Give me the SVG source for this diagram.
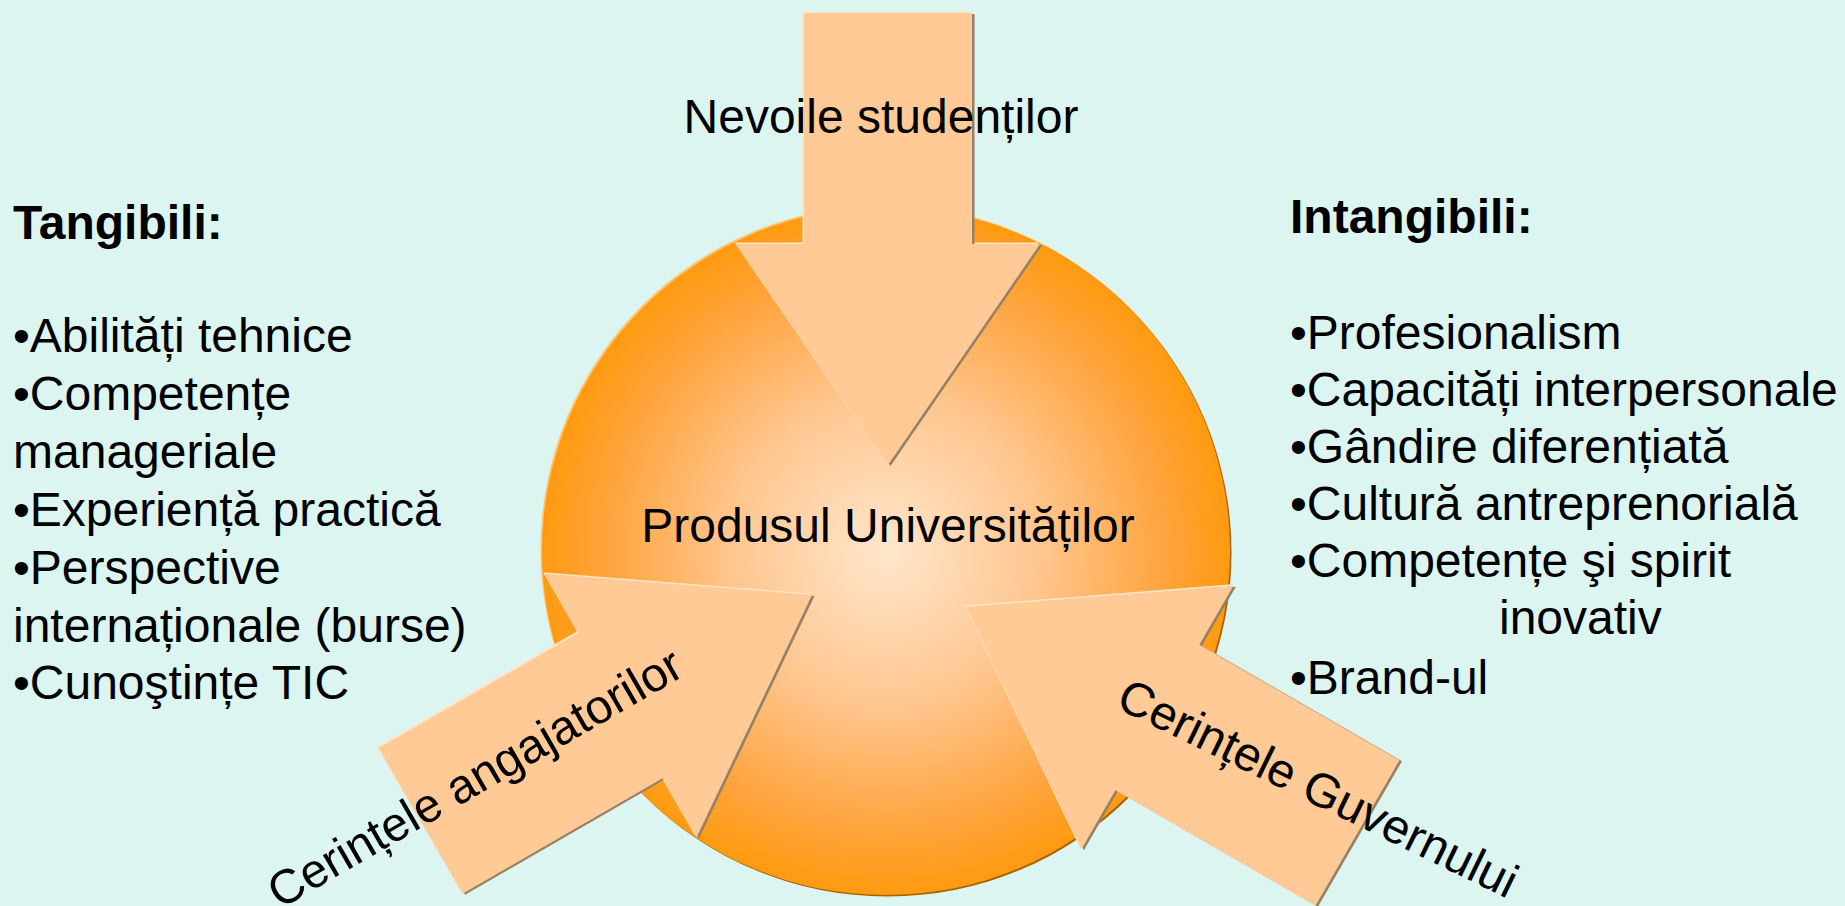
<svg xmlns="http://www.w3.org/2000/svg" xmlns:xlink="http://www.w3.org/1999/xlink" width="1845" height="906" viewBox="0 0 1845 906">
  <style>
    .t { font-family: "Liberation Sans", Arial, sans-serif; font-size: 48px; fill: #000; }
    .b { font-weight: bold; }
    .arrow { fill: #FFCA95; }
    .arrow-sh { fill: #968066; }
    .arrow-hl { fill: #FFE4C8; }
  </style>
  <defs>
    <radialGradient id="gCircle" cx="50%" cy="50%" r="50%">
      <stop offset="0" stop-color="#FFE6CC"/>
      <stop offset="0.45" stop-color="#FFC68F"/>
      <stop offset="0.8" stop-color="#FFA540"/>
      <stop offset="1" stop-color="#FF9A10"/>
    </radialGradient>
    <path id="arrowShape" d="M0,0 L-221,-152 L-221,-84 L-452,-84 L-452,84 L-221,84 L-221,152 Z"/>
  </defs>

  <rect width="1845" height="906" fill="#DDF5F0"/>

  <g id="node-center">
    <circle cx="884.5" cy="549.5" r="344" fill="#FFC574"/>
    <circle cx="887.5" cy="552.5" r="344" fill="#A86200"/>
    <circle cx="886" cy="551" r="344" fill="url(#gCircle)"/>
    <text class="t" x="888" y="542" text-anchor="middle">Produsul Universităților</text>
  </g>

  <g id="connectors">
    <g id="arrow-top">
      <g transform="translate(-1.5,-1.5)"><use xlink:href="#arrowShape" class="arrow-hl" transform="translate(888,465) rotate(90)"/></g>
      <g transform="translate(2.5,1)"><use xlink:href="#arrowShape" class="arrow-sh" transform="translate(888,465) rotate(90)"/></g>
      <use xlink:href="#arrowShape" class="arrow" transform="translate(888,465) rotate(90)"/>
    </g>
    <g id="arrow-left">
      <g transform="translate(-1.5,-1.5)"><use xlink:href="#arrowShape" class="arrow-hl" transform="translate(812,595) rotate(-30)"/></g>
      <g transform="translate(2.5,1)"><use xlink:href="#arrowShape" class="arrow-sh" transform="translate(812,595) rotate(-30)"/></g>
      <use xlink:href="#arrowShape" class="arrow" transform="translate(812,595) rotate(-30)"/>
    </g>
    <g id="arrow-right">
      <g transform="translate(-1.5,-1.5)"><use xlink:href="#arrowShape" class="arrow-hl" transform="translate(966,607) rotate(210)"/></g>
      <g transform="translate(2.5,1)"><use xlink:href="#arrowShape" class="arrow-sh" transform="translate(966,607) rotate(210)"/></g>
      <use xlink:href="#arrowShape" class="arrow" transform="translate(966,607) rotate(210)"/>
    </g>
  </g>

  <g id="node-students">
    <text class="t" x="881" y="133" text-anchor="middle">Nevoile studenților</text>
  </g>
  <g id="node-employers">
    <text class="t" text-anchor="middle" transform="translate(483,792) rotate(-30)">Cerințele angajatorilor</text>
  </g>
  <g id="node-government">
    <text class="t" text-anchor="middle" transform="translate(1311,803) rotate(26)">Cerințele Guvernului</text>
  </g>

  <g id="node-tangibili">
    <text class="t b" x="13" y="239">Tangibili:</text>
    <text class="t" x="13" y="352">•Abilități tehnice</text>
    <text class="t" x="13" y="410">•Competențe</text>
    <text class="t" x="13" y="468">manageriale</text>
    <text class="t" x="13" y="526">•Experiență practică</text>
    <text class="t" x="13" y="584">•Perspective</text>
    <text class="t" x="13" y="642">internaționale (burse)</text>
    <text class="t" x="13" y="699">•Cunoştințe TIC</text>
  </g>

  <g id="node-intangibili">
    <text class="t b" x="1290" y="233">Intangibili:</text>
    <text class="t" x="1290" y="349">•Profesionalism</text>
    <text class="t" x="1290" y="406">•Capacități interpersonale</text>
    <text class="t" x="1290" y="463">•Gândire diferențiată</text>
    <text class="t" x="1290" y="520">•Cultură antreprenorială</text>
    <text class="t" x="1290" y="577">•Competențe şi spirit</text>
    <text class="t" x="1499" y="634">inovativ</text>
    <text class="t" x="1290" y="694">•Brand-ul</text>
  </g>
</svg>
